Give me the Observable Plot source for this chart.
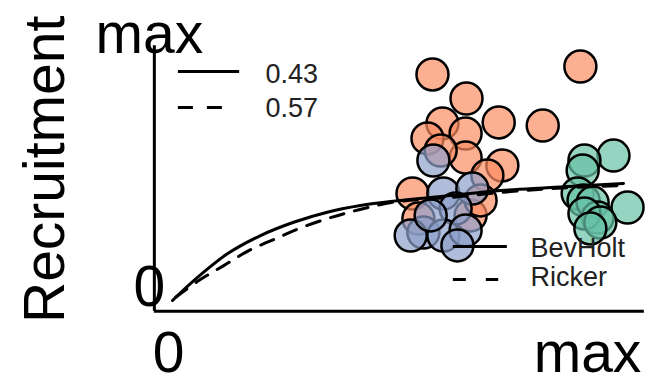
<!DOCTYPE html>
<html>
<head>
<meta charset="utf-8">
<script src="https://cdn.jsdelivr.net/npm/d3@7"></script>
<script src="https://cdn.jsdelivr.net/npm/@observablehq/plot@0.6"></script>
<style>
  html, body { margin: 0; padding: 0; background: #fff; }
  #chart svg { display: block; }
</style>
</head>
<body>
<div id="chart"></div>
<script>
// Axis tick labels (scaled units: 0 = zero, 100 = max)
const tickLabels = ["0", "max"];
const yTitle = "Recruitment";

// Stock 1 (orange) spawners / recruits
const orangeS = [57.3, 64.8, 71.9, 59.5, 64.6, 89.9, 81.6, 56.2, 64.6, 72.7, 69.4, 52.9, 54.2, 65.7, 59.1, 67.9];
const orangeR = [92.3, 82.5, 72.8, 72.4, 68.3, 95.5, 71.5, 66.3, 58.5, 55.3, 51.2, 43.9, 33.7, 35.0, 61.4, 41.1];
// Stock 2 (blue)
const blueS = [57.5, 59.7, 66.1, 62.4, 55.3, 59.7, 64.6, 62.8, 52.5, 56.9];
const blueR = [57.3, 43.9, 45.9, 37.8, 28.0, 26.8, 28.9, 22.8, 26.8, 35.0];
// Stock 3 (green)
const greenS = [97.2, 90.8, 90.4, 89.3, 90.6, 92.6, 100.3, 93.7, 90.8, 94.3, 92.1];
const greenR = [59.3, 57.3, 53.3, 43.9, 41.1, 40.2, 38.2, 34.1, 35.8, 32.1, 29.7];

// Fitted curves
const bevS = [0, 4.7, 12.1, 19.4, 26.7, 34.1, 41.4, 48.8, 61.3, 72.3, 83.3, 99.4];
const bevR = [0.4, 8.5, 19.4, 26.8, 32.2, 36.3, 39.0, 40.8, 43.1, 45.1, 46.3, 48.0];
const rickS = [0.7, 5.8, 11.3, 16.8, 22.7, 28.6, 35.2, 41.1, 48.7, 61.3, 72.3, 83.3, 99.8];
const rickR = [1.7, 8.5, 14.6, 20.7, 25.5, 30.2, 34.3, 37.3, 40.4, 42.3, 44.3, 45.9, 47.2];

// Legends
const weightLabels = ["0.43", "0.57"];
const modelLabels = ["BevHolt", "Ricker"];

const pts = (xs, ys) => xs.map((x, i) => ({x, y: ys[i]}));
const orange = pts(orangeS, orangeR);
const blue = pts(blueS, blueR);
const green = pts(greenS, greenR);
const bev = pts(bevS, bevR);
const rick = pts(rickS, rickR);

const big = 57;
const dotOpts = {x: "x", y: "y", r: 16, stroke: "black", strokeWidth: 2.5, fillOpacity: 0.7};

const chart = Plot.plot({
  width: 654,
  height: 383,
  style: {fontFamily: "'Liberation Sans', Arial, sans-serif", background: "white", color: "black"},
  x: {domain: [0, 100], range: [172, 625.7], axis: null},
  y: {domain: [0, 100], range: [301, 55], axis: null},
  marks: [
    // axes lines (L-shaped box with 4% padding)
    Plot.ruleX([-4], {y1: -4, y2: 104, stroke: "black", strokeWidth: 3}),
    Plot.ruleY([-4], {x1: -4, x2: 104, stroke: "black", strokeWidth: 3}),
    // points
    Plot.dot(orange, {...dotOpts, fill: "#fc8d62"}),
    Plot.dot(blue, {...dotOpts, fill: "#8da0cb"}),
    Plot.dot(green, {...dotOpts, fill: "#66c2a5"}),
    // curves
    Plot.line(bev, {x: "x", y: "y", stroke: "black", strokeWidth: 3, curve: "catmull-rom"}),
    Plot.line(rick, {x: "x", y: "y", stroke: "black", strokeWidth: 3, strokeDasharray: "14,11", curve: "catmull-rom"}),
    // tick labels
    Plot.text([tickLabels[0]], {x: 0, y: -4, text: d => d, fontSize: big, lineAnchor: "bottom", dx: -4, dy: 61}),
    Plot.text([tickLabels[1]], {x: 104, y: -4, text: d => d, fontSize: big, lineAnchor: "bottom", textAnchor: "end", dx: -3, dy: 61}),
    Plot.text([tickLabels[0]], {x: -4, y: 0, text: d => d, fontSize: big, lineAnchor: "bottom", dx: -5, dy: 4}),
    Plot.text([tickLabels[1]], {x: -4, y: 104, text: d => d, fontSize: big, lineAnchor: "bottom", dx: -5, dy: 7}),
    Plot.text([yTitle], {x: -28, y: 53.7, text: d => d, fontSize: big, rotate: -90}),
    // weights legend (top left)
    Plot.ruleY([93.5], {x1: 1.3, x2: 14.8, stroke: "black", strokeWidth: 3}),
    Plot.ruleY([78.9], {x1: 1.3, x2: 11.3, stroke: "black", strokeWidth: 3, strokeDasharray: "15,14"}),
    Plot.text([weightLabels[0]], {x: 20.5, y: 89.0, text: d => d, fontSize: 27, textAnchor: "start", lineAnchor: "bottom", fill: "#222"}),
    Plot.text([weightLabels[1]], {x: 20.5, y: 74.8, text: d => d, fontSize: 27, textAnchor: "start", lineAnchor: "bottom", fill: "#222"}),
    // model legend (bottom right)
    Plot.ruleY([22.4], {x1: 61.9, x2: 73.8, stroke: "black", strokeWidth: 3}),
    Plot.ruleY([8.9], {x1: 61.9, x2: 71.9, stroke: "black", strokeWidth: 3, strokeDasharray: "13,20"}),
    Plot.text([modelLabels[0]], {x: 78.9, y: 17.9, text: d => d, fontSize: 27, textAnchor: "start", lineAnchor: "bottom", fill: "#222"}),
    Plot.text([modelLabels[1]], {x: 78.9, y: 6.1, text: d => d, fontSize: 27, textAnchor: "start", lineAnchor: "bottom", fill: "#222"})
  ]
});
document.getElementById("chart").appendChild(chart);
</script>
</body>
</html>
